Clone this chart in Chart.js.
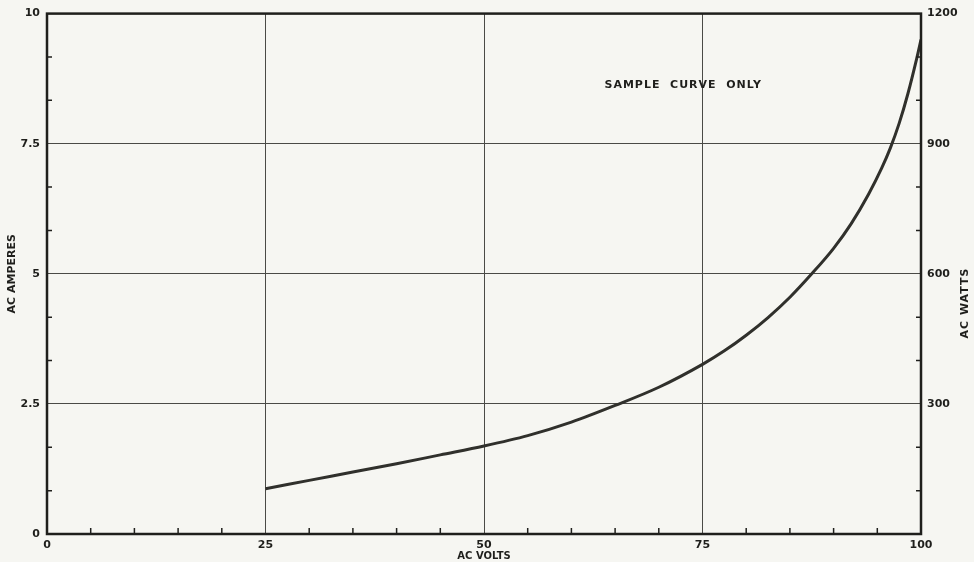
<!DOCTYPE html>
<html>
<head>
<meta charset="utf-8">
<script src="https://cdn.jsdelivr.net/npm/chart.js@4"></script>
<style>
  html, body { margin: 0; padding: 0; background: #f6f6f2; }
  #wrap { width: 974px; height: 562px; }
</style>
</head>
<body>
<div id="wrap"><canvas id="curveChart" width="974" height="562"></canvas></div>
<script>
// data
var acVolts = [25, 30, 35, 40, 45, 50, 55, 60, 65, 70, 75, 77.5, 80, 82.5, 85, 87.5, 90, 92, 94, 95.5, 96.5, 97.5, 98.5, 99.5, 100];
var acAmperes = [0.87, 1.03, 1.19, 1.35, 1.52, 1.69, 1.89, 2.15, 2.47, 2.82, 3.26, 3.52, 3.82, 4.16, 4.55, 5.0, 5.49, 5.96, 6.53, 7.03, 7.42, 7.89, 8.46, 9.13, 9.5];
var voltTicks = [0, 25, 50, 75, 100];
var ampTicks = [0, 2.5, 5, 7.5, 10];
var wattTicks = [300, 600, 900, 1200];

var ink = '#1f1f1c';
var labelFont = { family: 'DejaVu Sans', size: 11, weight: 'bold' };
var titleFont = { family: 'DejaVu Sans', size: 11, weight: 'bold' };

// frame, inward minor ticks and the free texts
var frameTicks = {
  id: 'frameTicks',
  afterDraw: function(chart) {
    var ctx = chart.ctx;
    var a = chart.chartArea;
    var x = chart.scales.x, y = chart.scales.y, y2 = chart.scales.y2;
    ctx.save();
    ctx.strokeStyle = ink;
    ctx.lineWidth = 1.5;
    for (var v = 5; v < 100; v += 5) {
      if (v % 25 === 0) continue;
      var px = x.getPixelForValue(v);
      ctx.beginPath();
      ctx.moveTo(px, a.bottom);
      ctx.lineTo(px, a.bottom - 6);
      ctx.stroke();
    }
    for (var w = 100; w < 1200; w += 100) {
      if (w % 300 === 0) continue;
      var py = y2.getPixelForValue(w);
      ctx.beginPath();
      ctx.moveTo(a.left, py);
      ctx.lineTo(a.left + 5, py);
      ctx.moveTo(a.right, py);
      ctx.lineTo(a.right - 5, py);
      ctx.stroke();
    }
    ctx.lineWidth = 2.5;
    ctx.strokeRect(a.left, a.top, a.right - a.left, a.bottom - a.top);

    ctx.fillStyle = ink;
    ctx.textAlign = 'center';
    ctx.textBaseline = 'middle';
    ctx.font = 'bold 11px "DejaVu Sans"';
    ctx.letterSpacing = '1px';
    ctx.fillText('SAMPLE  CURVE  ONLY', x.getPixelForValue(72.8), y.getPixelForValue(8.62));

    // right title reads upward like the left one
    ctx.translate(965, 303);
    ctx.rotate(-Math.PI / 2);
    ctx.fillText('AC WATTS', 0, 0);
    ctx.restore();
  }
};

function fixWidth(w) {
  return function(scale) { scale.width = w; };
}

new Chart(document.getElementById('curveChart').getContext('2d'), {
  type: 'line',
  data: {
    datasets: [{
      data: acVolts.map(function(v, i) { return { x: v, y: acAmperes[i] }; }),
      borderColor: '#30302c',
      borderWidth: 3,
      pointRadius: 0,
      cubicInterpolationMode: 'monotone',
      fill: false
    }]
  },
  plugins: [frameTicks],
  options: {
    responsive: false,
    animation: false,
    layout: { padding: { top: 13, left: 0, right: 0, bottom: 0 } },
    plugins: { legend: { display: false }, tooltip: { enabled: false } },
    scales: {
      x: {
        type: 'linear',
        min: 0, max: 100,
        afterBuildTicks: function(s) { s.ticks = voltTicks.map(function(v) { return { value: v }; }); },
        afterFit: function(s) { s.height = 28; },
        grid: { color: '#4a4a46', lineWidth: 1, drawTicks: false },
        border: { display: false },
        ticks: { color: ink, font: labelFont, padding: 5, maxRotation: 0 },
        title: { display: true, text: 'AC VOLTS', color: ink, font: { family: 'DejaVu Sans', size: 10, weight: 'bold' }, padding: 0 }
      },
      y: {
        type: 'linear',
        position: 'left',
        min: 0, max: 10,
        afterBuildTicks: function(s) { s.ticks = ampTicks.map(function(v) { return { value: v }; }); },
        afterFit: fixWidth(47),
        grid: { color: '#4a4a46', lineWidth: 1, drawTicks: false },
        border: { display: false },
        ticks: { color: ink, font: labelFont, padding: 7, callback: function(v) { return String(v); } },
        title: { display: true, text: 'AC AMPERES', color: ink, font: titleFont, padding: { top: 6, bottom: 0 } }
      },
      y2: {
        type: 'linear',
        position: 'right',
        min: 0, max: 1200,
        afterBuildTicks: function(s) { s.ticks = wattTicks.map(function(v) { return { value: v }; }); },
        afterFit: fixWidth(53),
        grid: { display: false, drawTicks: false },
        border: { display: false },
        ticks: { color: ink, font: labelFont, padding: 6, callback: function(v) { return String(v); } },
        title: { display: false }
      }
    }
  }
});
</script>
</body>
</html>
